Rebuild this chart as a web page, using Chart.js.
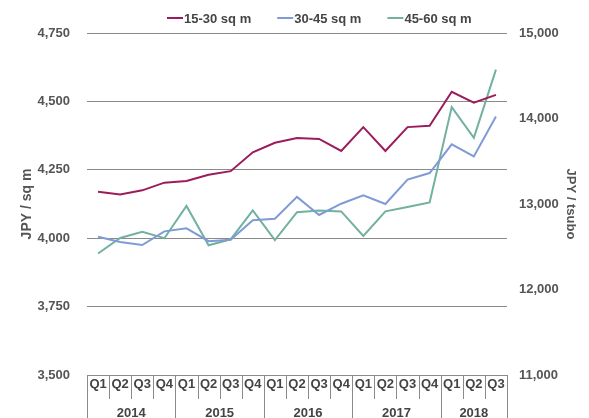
<!DOCTYPE html>
<html>
<head>
<meta charset="utf-8">
<script src="https://cdn.jsdelivr.net/npm/chart.js@4/dist/chart.umd.min.js"></script>
<style>
  html, body { margin: 0; padding: 0; background: #fff; }
  canvas { display: block; }
</style>
</head>
<body>
<canvas id="rentChart" width="589" height="418"></canvas>
<script>
// Quarterly rent per square metre by unit size, Q1 2014 – Q3 2018
const quarters = ['Q1','Q2','Q3','Q4','Q1','Q2','Q3','Q4','Q1','Q2','Q3','Q4','Q1','Q2','Q3','Q4','Q1','Q2','Q3'];
const years = ['2014', '2015', '2016', '2017', '2018'];
const quartersInYear = [4, 4, 4, 4, 3];

const rent15to30 = [4170, 4160, 4175, 4203, 4209, 4232, 4245, 4314, 4349, 4366, 4363, 4319, 4406, 4319, 4406, 4411, 4535, 4495, 4524];
const rent30to45 = [4005, 3986, 3975, 4025, 4036, 3989, 3994, 4066, 4071, 4151, 4085, 4126, 4157, 4125, 4214, 4238, 4343, 4299, 4445];
const rent45to60 = [3944, 4001, 4023, 4000, 4118, 3974, 3996, 4102, 3993, 4095, 4101, 4098, 4008, 4098, 4114, 4131, 4479, 4367, 4616];

const sqmTicks = [3500, 3750, 4000, 4250, 4500, 4750];
const tsuboTicks = [11000, 12000, 13000, 14000, 15000];

const FONT = '"Liberation Sans", Arial, Helvetica, sans-serif';
const TEXT = '#555555';
const GRID = '#8a8a8a';

Chart.defaults.font.family = FONT;

// Two-level category frame (quarters / years) plus a line-style legend
const axisFrame = {
  id: 'axisFrame',
  afterDraw(chart) {
    const { ctx, chartArea, scales: { x } } = chart;
    const half = (x.getPixelForValue(1) - x.getPixelForValue(0)) / 2;
    const top = chartArea.bottom;
    const bottom = chart.height;
    const quarterBottom = top + 24;

    const yearBounds = new Set([0]);
    let acc = 0;
    quartersInYear.forEach(n => { acc += n; yearBounds.add(acc); });

    ctx.save();
    ctx.strokeStyle = GRID;
    ctx.lineWidth = 1;
    for (let i = 0; i <= quarters.length; i++) {
      const px = Math.round(x.getPixelForValue(i) - half) + 0.5;
      ctx.beginPath();
      ctx.moveTo(px, top);
      ctx.lineTo(px, yearBounds.has(i) ? bottom : quarterBottom);
      ctx.stroke();
    }

    ctx.fillStyle = '#444';
    ctx.font = 'bold 13px ' + FONT;
    ctx.textAlign = 'center';
    ctx.textBaseline = 'alphabetic';
    let start = 0;
    years.forEach((yr, k) => {
      const end = start + quartersInYear[k];
      const cx = (x.getPixelForValue(start) + x.getPixelForValue(end - 1)) / 2;
      ctx.fillText(yr, cx, 417);
      start = end;
    });

    // legend
    ctx.textAlign = 'left';
    let lx = 167;
    const ly = 18;
    chart.data.datasets.forEach(ds => {
      ctx.strokeStyle = ds.borderColor;
      ctx.lineWidth = 2;
      ctx.beginPath();
      ctx.moveTo(lx, ly);
      ctx.lineTo(lx + 16, ly);
      ctx.stroke();
      ctx.fillStyle = '#444';
      ctx.fillText(ds.label, lx + 17, ly + 5);
      lx += 17 + ctx.measureText(ds.label).width + 26;
    });
    ctx.restore();
  }
};

new Chart(document.getElementById('rentChart'), {
  type: 'line',
  data: {
    labels: quarters,
    datasets: [
      { label: '15-30 sq m', data: rent15to30, borderColor: '#9c1c5b', yAxisID: 'y' },
      { label: '30-45 sq m', data: rent30to45, borderColor: '#7f9bd5', yAxisID: 'y' },
      { label: '45-60 sq m', data: rent45to60, borderColor: '#72b0a0', yAxisID: 'y' }
    ]
  },
  options: {
    responsive: false,
    animation: false,
    devicePixelRatio: 1,
    layout: { padding: { top: 33, left: 0, right: 0, bottom: 0 } },
    elements: {
      line: { borderWidth: 2, tension: 0, fill: false },
      point: { radius: 0, hoverRadius: 0 }
    },
    plugins: {
      legend: { display: false },
      tooltip: { enabled: false }
    },
    scales: {
      x: {
        type: 'category',
        offset: true,
        afterFit: s => { s.height = 43; },
        grid: { display: false, drawTicks: false },
        border: { display: false },
        ticks: {
          autoSkip: false, maxRotation: 0, minRotation: 0, padding: 2,
          color: '#444', font: { size: 13, weight: 'bold' }
        }
      },
      y: {
        position: 'left',
        min: sqmTicks[0],
        max: sqmTicks[sqmTicks.length - 1],
        afterBuildTicks: s => { s.ticks = sqmTicks.map(v => ({ value: v })); },
        afterFit: s => { s.width = 87; },
        grid: { color: GRID, lineWidth: 1, drawTicks: false },
        border: { display: false },
        ticks: {
          padding: 17, color: TEXT, font: { size: 13, weight: 'bold' },
          callback: v => v.toLocaleString('en-US')
        },
        title: {
          display: true, text: 'JPY / sq m', color: TEXT,
          font: { size: 14, weight: 'bold' }, padding: { top: 19, bottom: 0 }
        }
      },
      y2: {
        position: 'right',
        min: tsuboTicks[0],
        max: tsuboTicks[tsuboTicks.length - 1],
        afterBuildTicks: s => { s.ticks = tsuboTicks.map(v => ({ value: v })); },
        afterFit: s => { s.width = 82; },
        grid: { drawOnChartArea: false, drawTicks: false },
        border: { display: false },
        ticks: {
          padding: 12, color: TEXT, font: { size: 13, weight: 'bold' },
          callback: v => v.toLocaleString('en-US')
        },
        title: {
          display: true, text: 'JPY / tsubo', color: TEXT,
          font: { size: 13, weight: 'bold' }, padding: { top: 11, bottom: 0 }
        }
      }
    }
  },
  plugins: [axisFrame]
});
</script>
</body>
</html>
